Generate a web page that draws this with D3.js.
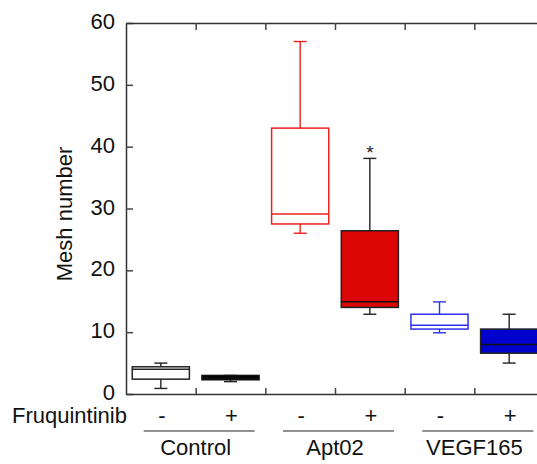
<!DOCTYPE html>
<html>
<head>
<meta charset="utf-8">
<script src="https://cdn.jsdelivr.net/npm/d3@7"></script>
<style>
  body { margin: 0; background: #fff; }
  svg { display: block; font-family: Arial, "Liberation Sans", sans-serif; }
</style>
</head>
<body>
<svg id="chart" width="537" height="464"></svg>
<script>
// boxes, in order: Control -, Control +, Apt02 -, Apt02 +, VEGF165 -, VEGF165 +
var groups = ["Control", "Apt02", "VEGF165"];
var treatments = ["-", "+"];
var whiskerLow  = [0.9, 2.0, 26.0, 12.9,  9.9, 5.0];
var q1          = [2.4, 2.3, 27.5, 14.0, 10.5, 6.6];
var median      = [4.0, 2.6, 29.1, 14.9, 11.1, 8.0];
var q3          = [4.4, 3.0, 43.0, 26.4, 12.9, 10.5];
var whiskerHigh = [5.0, 3.0, 57.0, 38.1, 14.9, 12.9];
var yTicks = [0, 10, 20, 30, 40, 50, 60];

var boxStroke = ["#222", "#111", "#ee2020", "#222", "#3030ee", "#222"];
var boxFill   = ["#fff", "#000", "#fff", "#dd0606", "#fff", "#0000cc"];

var svg = d3.select("#chart");

var keys = [];
groups.forEach(function (g) {
  treatments.forEach(function (t) { keys.push(g + t); });
});

var x = d3.scaleBand().domain(keys).range([126, 544]).paddingInner(0).paddingOuter(0);
var xl = d3.scaleLinear().domain([0, keys.length]).range(x.range());
var y = d3.scaleLinear().domain([0, 60]).range([394, 23]);

var bw = x.bandwidth() * 0.82,
    cap = 13;

// axes (ticks point inward)
var leftAxis = svg.append("g")
  .attr("transform", "translate(126,0)")
  .call(d3.axisLeft(y).tickValues(yTicks).tickSizeInner(-7).tickSizeOuter(0).tickPadding(11));
leftAxis.selectAll("text").attr("font-size", 22).attr("fill", "#111").attr("dy", "0.25em");

var bounds = [1, 2, 3, 4, 5];
var bottomAxis = svg.append("g")
  .attr("transform", "translate(0,394)")
  .call(d3.axisBottom(xl).tickValues(bounds).tickSizeInner(-6).tickSizeOuter(0).tickFormat(""));
var topAxis = svg.append("g")
  .attr("transform", "translate(0,23)")
  .call(d3.axisTop(xl).tickValues(bounds).tickSizeInner(-7).tickSizeOuter(0).tickFormat(""));

[leftAxis, bottomAxis, topAxis].forEach(function (a) {
  a.select(".domain").attr("stroke", "#333").attr("stroke-width", 1.5);
  a.selectAll(".tick line").attr("stroke", "#444").attr("stroke-width", 1.5);
});

svg.append("text")
  .attr("transform", "translate(72,214) rotate(-90)")
  .attr("text-anchor", "middle")
  .attr("font-size", 22)
  .attr("fill", "#111")
  .text("Mesh number");

// boxes
var box = svg.selectAll("g.box")
  .data(keys)
  .enter().append("g")
  .attr("class", "box")
  .attr("transform", function (d) { return "translate(" + (x(d) + x.bandwidth() / 2) + ",0)"; });

var wColor = function (d, i) { return boxFill[i] === "#fff" ? boxStroke[i] : "#222"; };

box.append("line")
  .attr("y1", function (d, i) { return y(whiskerLow[i]); })
  .attr("y2", function (d, i) { return y(whiskerHigh[i]); })
  .attr("stroke", wColor).attr("stroke-width", 1.4);

box.append("line")
  .attr("x1", -cap / 2).attr("x2", cap / 2)
  .attr("y1", function (d, i) { return y(whiskerLow[i]); })
  .attr("y2", function (d, i) { return y(whiskerLow[i]); })
  .attr("stroke", wColor).attr("stroke-width", 1.4);

box.append("line")
  .attr("x1", -cap / 2).attr("x2", cap / 2)
  .attr("y1", function (d, i) { return y(whiskerHigh[i]); })
  .attr("y2", function (d, i) { return y(whiskerHigh[i]); })
  .attr("stroke", wColor).attr("stroke-width", 1.4);

box.append("rect")
  .attr("x", -bw / 2)
  .attr("width", bw)
  .attr("y", function (d, i) { return y(q3[i]); })
  .attr("height", function (d, i) { return y(q1[i]) - y(q3[i]); })
  .attr("fill", function (d, i) { return boxFill[i]; })
  .attr("stroke", function (d, i) { return boxStroke[i]; })
  .attr("stroke-width", 1.5);

box.append("line")
  .attr("x1", -bw / 2).attr("x2", bw / 2)
  .attr("y1", function (d, i) { return y(median[i]); })
  .attr("y2", function (d, i) { return y(median[i]); })
  .attr("stroke", function (d, i) { return boxFill[i] === "#fff" ? boxStroke[i] : "#111"; })
  .attr("stroke-width", 1.5);

// significance mark over Apt02 +
svg.append("text")
  .attr("x", x("Apt02+") + x.bandwidth() / 2)
  .attr("y", y(whiskerHigh[3]) + 1)
  .attr("text-anchor", "middle")
  .attr("font-size", 19)
  .attr("fill", "#222")
  .text("*");

// treatment row
svg.append("text")
  .attr("x", 12).attr("y", 423)
  .attr("font-size", 22).attr("fill", "#111")
  .text("Fruquintinib");

svg.selectAll("text.treat")
  .data(keys)
  .enter().append("text")
  .attr("class", "treat")
  .attr("x", function (d) { return x(d) + x.bandwidth() / 2 + 1; })
  .attr("y", 423)
  .attr("text-anchor", "middle")
  .attr("font-size", 22).attr("fill", "#111")
  .text(function (d, i) { return treatments[i % 2]; });

// group labels
var grp = svg.selectAll("g.grp")
  .data(groups)
  .enter().append("g")
  .attr("class", "grp")
  .attr("transform", function (d, i) { return "translate(" + xl(i * 2 + 1) + ",0)"; });

grp.append("line")
  .attr("x1", -52).attr("x2", 59)
  .attr("y1", 431).attr("y2", 431)
  .attr("stroke", "#222").attr("stroke-width", 1.2);

grp.append("text")
  .attr("y", 455)
  .attr("text-anchor", "middle")
  .attr("font-size", 22).attr("fill", "#111")
  .text(function (d) { return d; });
</script>
</body>
</html>
